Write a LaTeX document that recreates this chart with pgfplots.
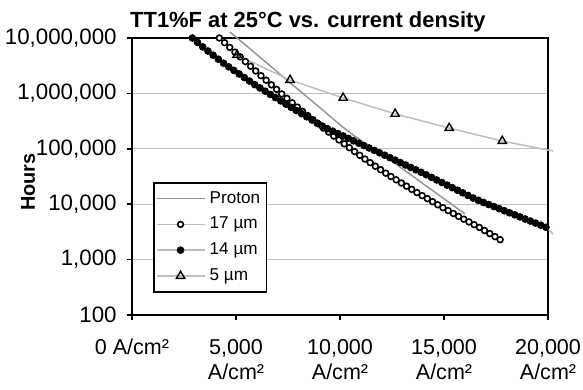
\documentclass[border=0pt]{standalone}
\usepackage{fontspec}
\setmainfont{Liberation Sans}
\usepackage{pgfplots}
\pgfplotsset{compat=1.18}
\definecolor{protongray}{RGB}{150,150,150}
\definecolor{linegray}{RGB}{190,190,190}
\definecolor{gridgray}{RGB}{192,192,192}
\begin{document}
\begin{tikzpicture}
\begin{axis}[
  at={(0,0)}, anchor=south west,
  width=208bp, height=138.5bp, scale only axis,
  xmin=0, xmax=20000, ymin=100, ymax=10000000, ymode=log,
  clip=false,
  axis line style={line width=1bp, black},
  xtick={0,5000,10000,15000,20000},
  xticklabels={{0 A/cm²},{5,000\\A/cm²},{10,000\\A/cm²},{15,000\\A/cm²},{20,000\\A/cm²}},
  ytick={100,1000,10000,100000,1000000,10000000},
  yticklabels={100,{1,000},{10,000},{100,000},{1,000,000},{10,000,000}},
  yminorticks=false, xminorticks=false,
  tick align=outside, major tick length=2.5bp,
  xtick pos=bottom, ytick pos=left,
  tick style={black, line width=0.8bp},
  ymajorgrids, major grid style={line width=0.6bp, gridgray},
  xticklabel style={font=\fontsize{10.8}{12.6}\selectfont, align=center, anchor=north, inner sep=0pt, yshift=-9.5bp},
  yticklabel style={font=\fontsize{11.2}{13}\selectfont, anchor=east, inner sep=0pt, xshift=-5bp},
  title={TT1\%F at 25°C vs. current density},
  title style={font=\bfseries\fontsize{11}{13}\selectfont, at={(axis description cs:0.423,1)}, anchor=base, yshift=-0.5bp, inner sep=0pt},
  ylabel={Hours},
  ylabel style={font=\bfseries\fontsize{10}{12}\selectfont, at={(axis description cs:-0.25,0.48)}, anchor=center, inner sep=0pt},
  legend style={at={(0.0505,0.48)}, anchor=north west, draw=black, line width=0.8bp, fill=white,
    font=\fontsize{8.6}{10}\selectfont, inner xsep=1bp, inner ysep=2bp, row sep=1.1bp,
    nodes={inner sep=2.2bp}},
  legend cell align=left,
  legend image code/.code={\draw[mark repeat=2,mark phase=2,#1] plot coordinates {(0bp,0bp)(12bp,0bp)(24bp,0bp)};},
]
% Proton
\addplot[protongray, line width=0.75bp, no marks] coordinates {
(4700,12880000) (5200,9016000) (5700,6266000) (6200,4345000) (6700,3020000)
(7200,2089000) (7700,1445000) (8200,1012000) (8700,703100) (9200,489800)
(9700,338800) (10200,236000) (10700,169800) (11200,126800) (11700,94840)
(12200,70790) (12700,52600) (13200,38460) (13700,28180) (14200,20610)
(14700,15100) (15200,11040) (15700,8091) (16000,6699)
};
\addlegendentry{Proton}
% 17 um
\addplot[linegray, line width=0.75bp, mark=*, mark size=1.45bp,
  mark options={draw=black, fill=white, line width=0.8bp}] coordinates {
(4200,10000000) (4450,8222000) (4700,6761000) (4950,5559000) (5200,4571000)
(5450,3758000) (5700,3090000) (5950,2541000) (6200,2089000) (6450,1728000)
(6700,1429000) (6950,1182000) (7200,977200) (7450,812800) (7700,676100)
(7950,565600) (8200,473200) (8450,398100) (8700,335000) (8950,281800)
(9200,237100) (9450,200700) (9700,169800) (9950,144500) (10200,123000)
(10450,104700) (10700,89130) (10950,76300) (11200,65310) (11450,56230)
(11700,48420) (11950,41930) (12200,36310) (12450,31620) (12700,27540)
(12950,24130) (13200,21130) (13450,18510) (13700,16220) (13950,14290)
(14200,12590) (14450,11090) (14700,9772) (14950,8659) (15200,7674)
(15450,6800) (15700,6026) (15950,5370) (16200,4786) (16450,4266)
(16700,3802) (16950,3350) (17200,2951) (17450,2600) (17700,2291)
};
\addlegendentry{17 µm}
% 14 um
\addplot[linegray, line width=0.75bp, mark=*, mark size=1.7bp,
  mark options={draw=black, fill=black, line width=0.4bp}] coordinates {
(2900,10000000) (3150,8318000) (3400,6918000) (3650,5821000) (3900,4898000)
(4150,4145000) (4400,3508000) (4650,3020000) (4900,2600000) (5150,2244000)
(5400,1936000) (5650,1669000) (5900,1439000) (6150,1256000) (6400,1096000)
(6650,958300) (6900,837500) (7150,732000) (7400,639700) (7650,560600)
(7900,490900) (8150,431000) (8400,378400) (8650,331900) (8900,291100)
(9150,257000) (9400,230100) (9650,208200) (9900,188400) (10150,170400)
(10400,154200) (10650,139500) (10900,126200) (11150,114200) (11400,103300)
(11650,93540) (11900,84720) (12150,76560) (12400,69180) (12650,62520)
(12900,56490) (13150,51050) (13400,46130) (13650,41690) (13900,37670)
(14150,33880) (14400,30480) (14650,27380) (14900,24600) (15150,22110)
(15400,19860) (15650,17850) (15900,16030) (16150,14410) (16400,12940)
(16650,11750) (16900,10740) (17150,9863) (17400,9057) (17650,8309)
(17900,7621) (18150,6998) (18400,6427) (18650,5896) (18900,5408)
(19150,4966) (19400,4560) (19650,4183) (19900,3837)
};
\addlegendentry{14 µm}
\addplot[linegray, line width=0.75bp, no marks, forget plot] coordinates {
(19900,3837) (20250,2884)
};
% 5 um
\addplot[linegray, line width=0.75bp, mark=triangle, mark size=2.4bp,
  mark options={draw=black, line width=0.7bp}] coordinates {
(5050,4930000) (7600,1740000) (10150,830000) (12650,427000) (15250,237000) (17800,138000)
};
\addlegendentry{5 µm}
\addplot[linegray, line width=0.75bp, no marks, forget plot] coordinates {
(17800,138000) (20250,91000)
};
\end{axis}
\pgfresetboundingbox
\path[use as bounding box] (-66bp,-37.5bp) rectangle (225.5bp,157.5bp);
\end{tikzpicture}
\end{document}
